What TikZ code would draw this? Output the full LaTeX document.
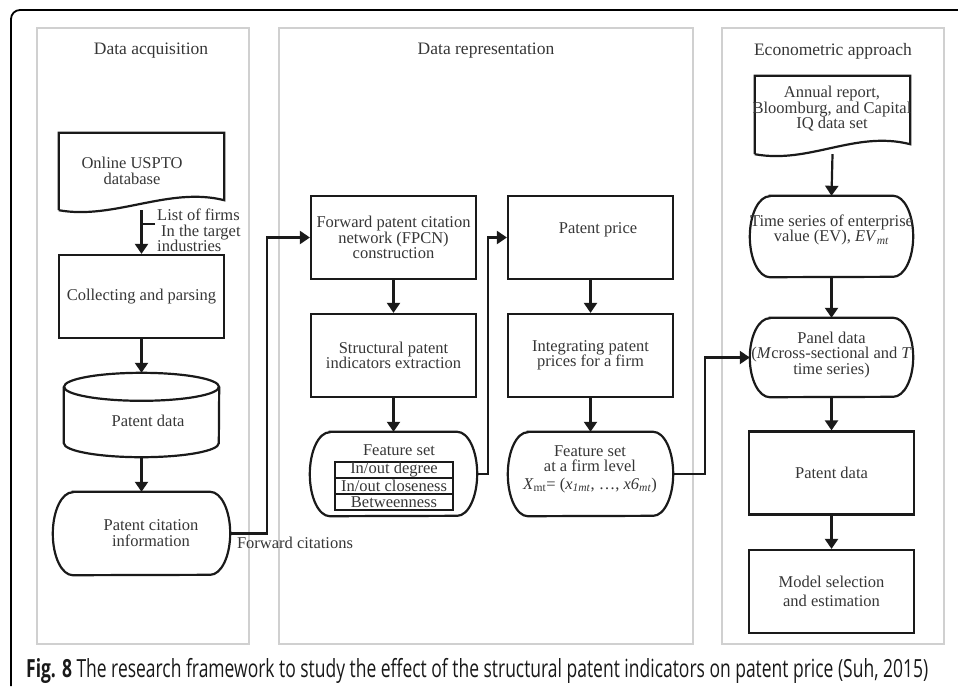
\documentclass[tikz,border=0pt]{standalone}
\usepackage{graphicx}
\usepackage{fontspec}
\setmainfont{Liberation Serif}
\newfontfamily\capfont{Open Sans}
\usetikzlibrary{arrows.meta,calc}
\definecolor{txt}{HTML}{363636}
\definecolor{ln}{HTML}{1A1A1A}
\definecolor{pnl}{HTML}{D0D0D0}
\newlength\stadh
\newcommand\stadshape[1]{%
  \draw[lnk] ([xshift=20pt]#1.north west) -- ([xshift=-20pt]#1.north east)
    arc[start angle=90,end angle=-90,x radius=20pt,y radius=0.5*\stadh]
    -- ([xshift=20pt]#1.south west)
    arc[start angle=270,end angle=90,x radius=20pt,y radius=0.5*\stadh] -- cycle;}
\newcommand\docshape[1]{%
  \draw[lnk] (#1.south west) -- (#1.north west) -- (#1.north east) -- ([yshift=10pt]#1.south east)
    .. controls ([xshift=-55pt,yshift=24pt]#1.south east) and ([xshift=55pt,yshift=-10pt]#1.south west) .. (#1.south west);}
\begin{document}
\begin{tikzpicture}[x=1pt,y=-1pt,
  every node/.style={text=txt,font=\fontsize{16.5}{15.5}\selectfont,inner sep=0pt,align=center},
  boxn/.style={draw=ln,line width=2.2pt,minimum width=165pt,minimum height=83pt},
  shp/.style={draw=none,minimum width=#1,minimum height=83pt},
  docn/.style={draw=none,minimum width=#1,minimum height=77pt},
  arr/.style={draw=ln,line width=2.2pt,-{Triangle[length=10pt,width=13pt]}},
  lnk/.style={draw=ln,line width=2.2pt},
  panel/.style={draw=pnl,line width=2pt},
  ttl/.style={font=\fontsize{17.5}{20}\selectfont},
  cell/.style={draw=ln,line width=2.4pt,minimum width=118pt,minimum height=16pt}
]
\useasboundingbox (0,0) rectangle (958,686);
\setlength\stadh{83pt}
% outer frame
\draw[line width=1.8pt,black] (11,686) -- (11,19) arc[start angle=180,end angle=90,radius=9pt] -- (958,10);
% panels
\draw[panel] (37,28) rectangle (249,644);
\draw[panel] (279,28) rectangle (693,644);
\draw[panel] (722,28) rectangle (944,644);
\node[ttl] (t1) at (151,51) {Data acquisition};
\node[ttl] (t2) at (486,51) {Data representation};
\node[ttl] (t3) at (833,51) {Econometric approach};

% ---- panel 1
\node[docn=165pt] (doc1) at (141.5,171.5) {};
\docshape{doc1}
\node (doc1t) at (132,171) {Online USPTO\\database};
\node[boxn] (coll) at (141.5,296.5) {Collecting and parsing};
\node[draw=none,minimum width=155pt,minimum height=84pt] (cyl) at (141.5,415) {};
\draw[lnk] ([yshift=-14pt]cyl.north) ellipse[x radius=77.5pt,y radius=14pt];
\draw[lnk] ([yshift=-14pt]cyl.north west) -- ([yshift=14pt]cyl.south west)
  arc[start angle=180,end angle=360,x radius=77.5pt,y radius=14pt] -- ([yshift=-14pt]cyl.north east);
\node (cylt) at (148,421) {Patent data};
\node[shp=177pt] (term1) at (141.5,533.5) {};
\stadshape{term1}
\node (term1t) at (151,533) {Patent citation\\information};

\draw[arr] (doc1.south) -- (coll.north);
\coordinate (tick) at (155,224);
\draw[lnk,line width=1.4pt] (tick) -- (141.5,224);
\node[anchor=north west,align=left] (lst) at (157,209) {List of firms\\\hspace*{4pt}In the target\\industries};
\draw[arr] (coll.south) -- (cyl.north);
\draw[arr] (cyl.south) -- (term1.north);

% ---- panel 2
\node[boxn] (fpcn) at (393.5,237.5) {Forward patent citation\\network (FPCN)\\construction};
\node[boxn] (struct) at (393.5,355.5) {Structural patent\\indicators extraction};
\setlength\stadh{84pt}
\node[shp=167pt,minimum height=84pt] (feat) at (393.5,474) {};
\stadshape{feat}
\node (featt) at (399,450) {Feature set};
\node[cell] (r1) at (394,470) {In/out degree};
\node[cell] (r2) at (394,486) {In/out closeness};
\node[cell] (r3) at (394,502) {Betweenness};

\node[boxn] (price) at (590.5,237.5) {};
\node (pricet) at (598,230) {Patent price};
\node[boxn] (integ) at (590.5,355.5) {Integrating patent\\prices for a firm};
\node[shp=165pt,minimum height=84pt] (firm) at (590.5,474) {};
\stadshape{firm}
\node (firmt) at (590,469) {Feature set\\at a firm level\\[2pt]\textit{X}\textsubscript{mt}= (\textit{x}\textsubscript{\textit{1mt}}, …, \textit{x6}\textsubscript{\textit{mt}})};

\draw[arr] (fpcn.south) -- (struct.north);
\draw[arr] (struct.south) -- (feat.north);
\draw[arr] (price.south) -- (integ.north);
\draw[arr] (integ.south) -- (firm.north);

% ---- panel 3
\node[docn=155pt,minimum height=78pt] (doc3) at (832.5,115) {};
\docshape{doc3}
\node (doc3t) at (832,109) {Annual report,\\Bloomburg, and Capital\\IQ data set};
\setlength\stadh{81pt}
\node[shp=163pt,minimum height=81pt] (ts) at (831.5,236.5) {};
\stadshape{ts}
\node (tst) at (831.5,230) {Time series of enterprise\\value (EV), \textit{EV}\textsubscript{\textit{mt}}};
\setlength\stadh{79pt}
\node[shp=163pt,minimum height=79pt] (pan) at (831.5,357.5) {};
\stadshape{pan}
\node (pant) at (831.5,355) {Panel data\\(\textit{M}cross-sectional and \textit{T}\\time series)};
\node[boxn] (pdat) at (831.5,473) {Patent data};
\node[boxn] (model) at (831.5,591.5) {Model selection\\[4pt]and estimation};

\draw[arr] (doc3.south) -- (ts.north);
\draw[arr] (ts.south) -- (pan.north);
\draw[arr] (pan.south) -- (pdat.north);
\draw[arr] (pdat.south) -- (model.north);

% ---- cross links
\draw[arr] (term1.east) -- ++(37,0) |- (fpcn.west);
\node (fc) at (295,543) {Forward citations};
\draw[arr] (feat.east) -- ++(11,0) |- (price.west);
\draw[arr] (firm.east) -- ++(32,0) |- (pan.west);

% caption
\node[anchor=base west,text=black!90] (cap) at (26,677) {\resizebox{902pt}{\height}{\capfont\fontsize{25}{28}\selectfont\textbf{Fig. 8} The research framework to study the effect of the structural patent indicators on patent price (Suh, 2015)}};
\end{tikzpicture}
\end{document}
